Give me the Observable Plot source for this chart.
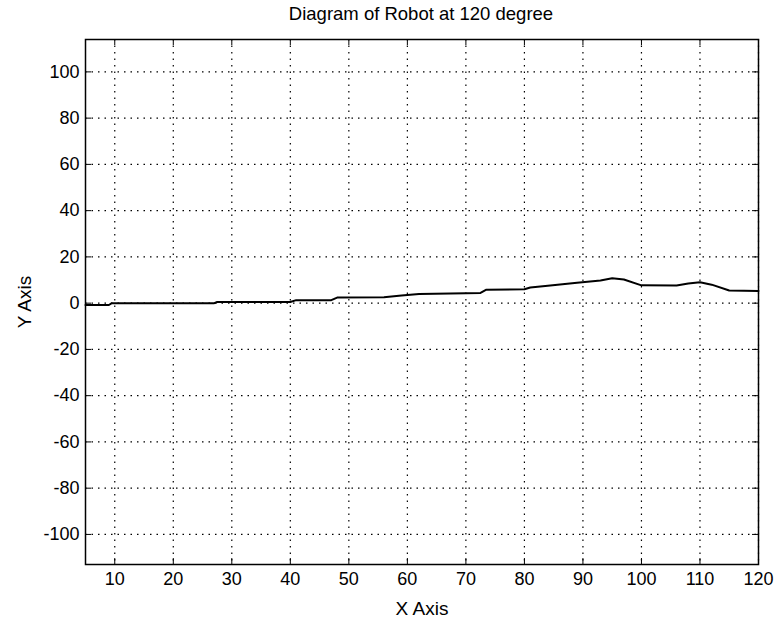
<!DOCTYPE html>
<html>
<head>
<meta charset="utf-8">
<script src="https://cdn.jsdelivr.net/npm/d3@7"></script>
<script src="https://cdn.jsdelivr.net/npm/@observablehq/plot@0.6"></script>
<style>
  html, body { margin: 0; padding: 0; background: #fff; }
  #title { width: 777px; height: 28px; line-height: 28px; box-sizing: border-box;
    padding-left: 84px; padding-right: 19px; text-align: center;
    font-family: "Liberation Sans", Arial, sans-serif; font-size: 18.5px; color: #000; }
</style>
</head>
<body>
<div id="title">Diagram of Robot at 120 degree</div>
<div id="chart"></div>
<script>
const xs = [5, 9, 9.5, 27, 27.5, 40, 41, 47, 48, 56, 59, 62, 70, 72.5, 73.5, 80, 81, 84, 89, 93, 95, 97, 100, 106, 108, 110, 112, 115, 120];
const ys = [-0.8, -0.8, 0, 0, 0.5, 0.5, 1.3, 1.3, 2.4, 2.6, 3.3, 4, 4.3, 4.4, 5.8, 6, 6.8, 7.5, 8.8, 9.8, 10.8, 10.2, 7.7, 7.6, 8.5, 9, 8, 5.5, 5.3];
const xTicks = [10, 20, 30, 40, 50, 60, 70, 80, 90, 100, 110, 120];
const yTicks = [-100, -80, -60, -40, -20, 0, 20, 40, 60, 80, 100];

const data = xs.map((x, i) => ({x, y: ys[i]}));

const W = 777, H = 594;
const mt = 11, mb = 58, ml = 85, mr = 19;
const ph = H - mt - mb, pw = W - ml - mr;
const tick = 6;
const fmt = d => String(d);

const chart = Plot.plot({
  width: W, height: H,
  marginTop: mt, marginBottom: mb, marginLeft: ml, marginRight: mr,
  style: {fontFamily: "'Liberation Sans', Arial, sans-serif", fontSize: "18px", color: "#000", background: "#fff"},
  x: {domain: [5, 120], ticks: xTicks},
  y: {domain: [-113, 114], ticks: yTicks},
  marks: [
    Plot.gridX(xTicks, {stroke: "#000", strokeOpacity: 1, strokeDasharray: "1.5,5", strokeWidth: 1.2}),
    Plot.gridY(yTicks, {stroke: "#000", strokeOpacity: 1, strokeDasharray: "1.5,5", strokeWidth: 1.2}),
    Plot.tickX(xTicks, {x: d => d, stroke: "#000", insetTop: ph - tick}),
    Plot.tickX(xTicks, {x: d => d, stroke: "#000", insetBottom: ph - tick}),
    Plot.tickY(yTicks, {y: d => d, stroke: "#000", insetRight: pw - tick}),
    Plot.tickY(yTicks, {y: d => d, stroke: "#000", insetLeft: pw - tick}),
    Plot.axisX(xTicks, {tickSize: 0, tickPadding: 8, fontSize: 18, tickFormat: fmt, label: null}),
    Plot.axisX({tickSize: 0, ticks: [], fontSize: 19, label: "X Axis", labelAnchor: "center", labelOffset: 50, labelArrow: "none"}),
    Plot.axisY(yTicks, {tickSize: 0, tickPadding: 6, fontSize: 18, tickFormat: fmt, label: null}),
    Plot.axisY({tickSize: 0, ticks: [], fontSize: 19, label: "Y Axis", labelAnchor: "center", labelOffset: 68, labelArrow: "none"}),
    Plot.line(data, {x: "x", y: "y", stroke: "#000", strokeWidth: 2}),
    Plot.frame({stroke: "#000", strokeWidth: 1.5})
  ]
});
document.getElementById("chart").appendChild(chart);
</script>
</body>
</html>
